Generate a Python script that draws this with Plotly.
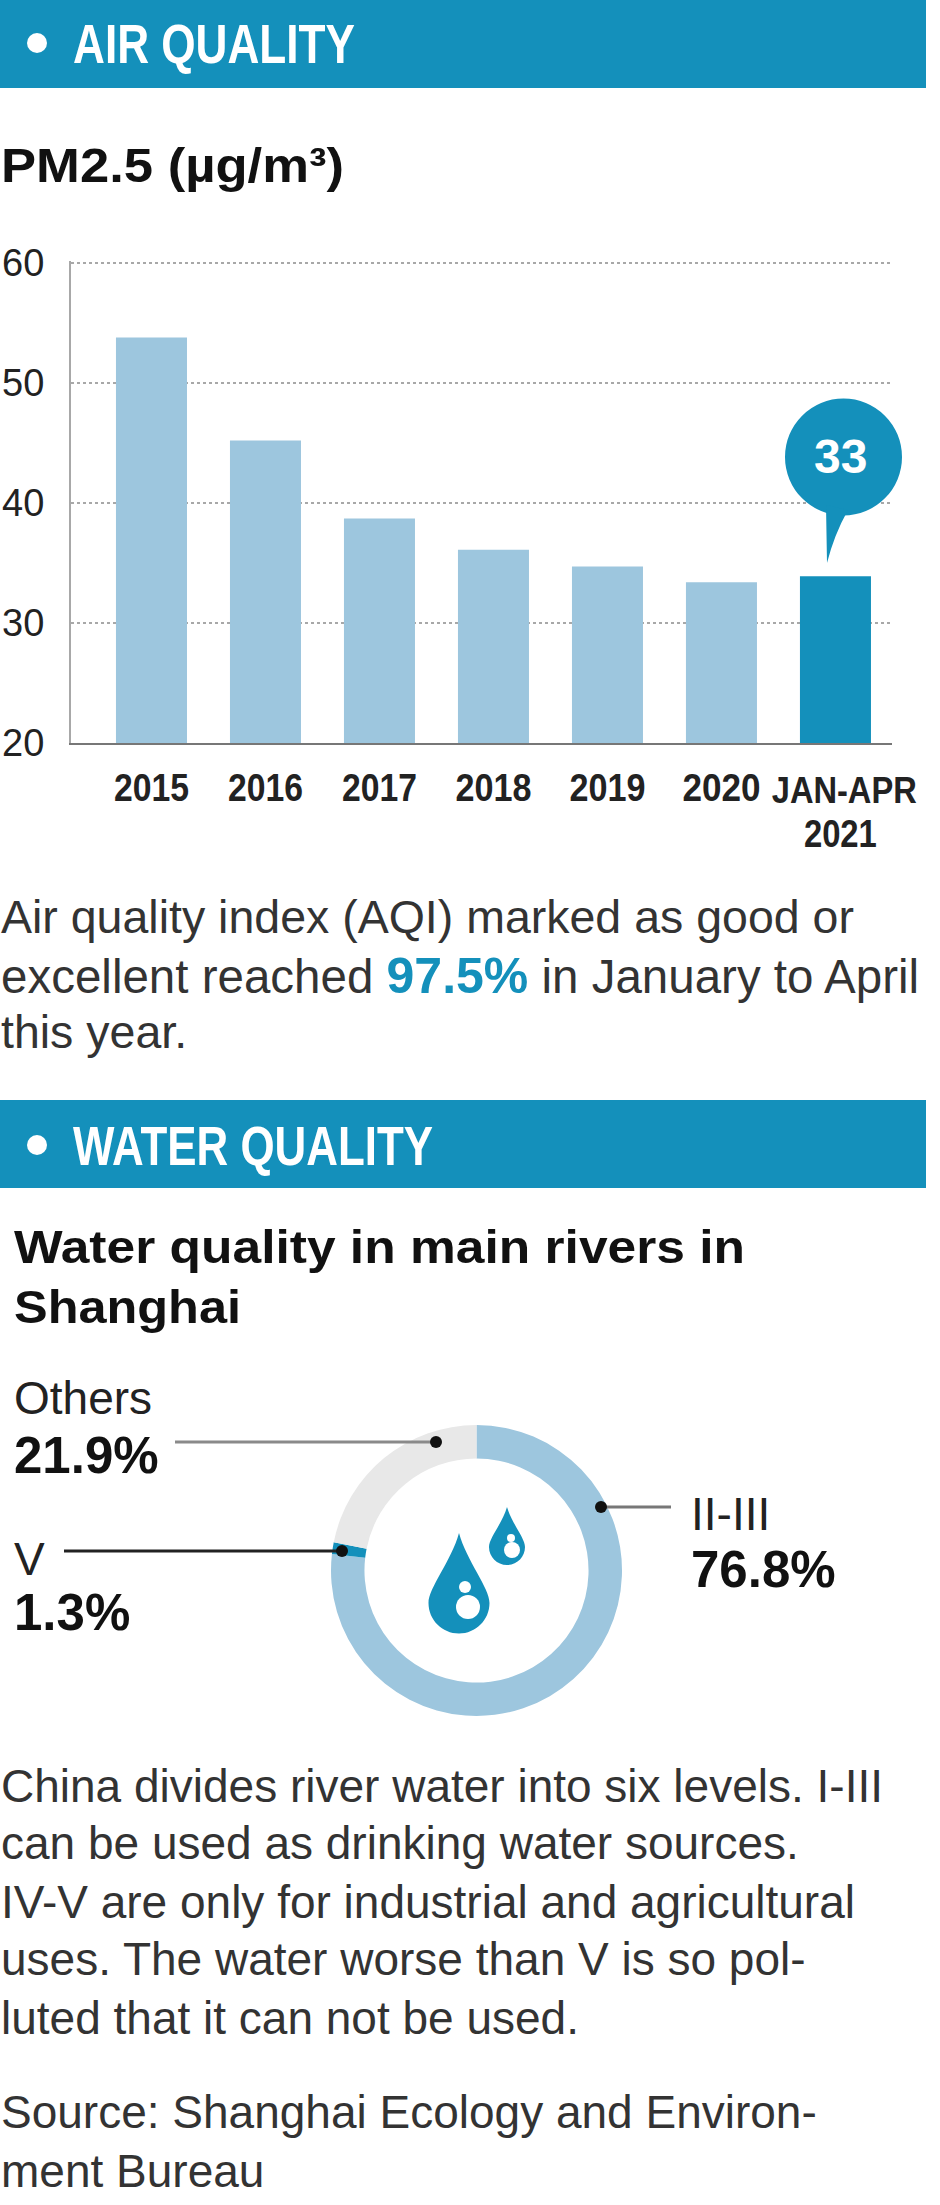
import json
import plotly.graph_objects as go

W, H = 940, 2205
BLUE = "#1490BB"
LIGHT = "#9DC6DE"
GREY = "#E8E8E8"
SANS = "Liberation Sans"

categories = ["2015", "2016", "2017", "2018", "2019", "2020", "JAN-APR 2021"]
pm25 = [53.8, 45.2, 38.7, 36.1, 34.7, 33.4, 33.9]
x_labels = ["2015", "2016", "2017", "2018", "2019", "2020", ""]
y_ticks = [20, 30, 40, 50, 60]
bar_colors = [LIGHT] * 6 + [BLUE]

river_levels = ["II-III", "V", "Others"]
river_shares = [76.8, 1.3, 21.9]
river_colors = [LIGHT, BLUE, GREY]

# Condensed / extended faces are not installed: fit the real text to the reference's widths
text_widths = {"AIR QUALITY": 282, "WATER QUALITY": 360, "JAN-APR": 145, "2021": 73,
               "2015": 75, "2016": 75, "2017": 75, "2018": 76, "2019": 76, "2020": 78,
               "PM2.5 (µg/m³)": 343, "Water quality in main rivers in": 731, "Shanghai": 227}


def px(x):
    return x / W


def py(y):
    return 1 - y / H


def P(x, y):
    return f"{px(x):.5f},{py(y):.5f}"


annotations = []


def text(x, baseline, s, size, color="#222222", weight=400, anchor="left", xref="paper", xshift=0):
    annotations.append(dict(
        x=x if xref != "paper" else px(x), y=py(baseline - 0.3465 * size), xref=xref, yref="paper",
        text=s, showarrow=False,
        xanchor=anchor, yanchor="middle", align=anchor, borderpad=0, xshift=xshift,
        font=dict(family=SANS, size=size, color=color, weight=weight),
    ))


shapes = []


def rect(x0, y0, x1, y1, color):
    shapes.append(dict(type="rect", xref="paper", yref="paper", x0=px(x0), x1=px(x1), y0=py(y0), y1=py(y1),
                       fillcolor=color, line_width=0, layer="below"))


def circle(cx, cy, r, color):
    shapes.append(dict(type="circle", xref="paper", yref="paper", x0=px(cx - r), x1=px(cx + r),
                       y0=py(cy + r), y1=py(cy - r), fillcolor=color, line_width=0, layer="above"))


def line(x0, x1, y, color, width):
    shapes.append(dict(type="line", xref="paper", yref="paper", x0=px(x0), x1=px(x1), y0=py(y), y1=py(y),
                       line=dict(color=color, width=width), layer="above"))


def drop(tipx, tipy, cy, r, color):
    k = 0.5523 * r
    cx = tipx
    bottom = cy + r
    path = (f"M{P(tipx, tipy)} C{P(cx + r * 0.25, tipy + (cy - tipy) * 0.4)} {P(cx + r, cy - k * 0.9)} {P(cx + r, cy)} "
            f"C{P(cx + r, cy + k)} {P(cx + k, bottom)} {P(cx, bottom)} "
            f"C{P(cx - k, bottom)} {P(cx - r, cy + k)} {P(cx - r, cy)} "
            f"C{P(cx - r, cy - k * 0.9)} {P(cx - r * 0.25, tipy + (cy - tipy) * 0.4)} {P(tipx, tipy)} Z")
    shapes.append(dict(type="path", xref="paper", yref="paper", path=path, fillcolor=color, line_width=0, layer="above"))


# Section bands
rect(0, 0, 926, 88, BLUE)
rect(0, 1100, 926, 1188, BLUE)
circle(37, 43, 10, "white")
circle(37, 1145, 10, "white")
text(72, 63, "AIR QUALITY", 55, "white", 700)
text(72, 1165, "WATER QUALITY", 55, "white", 700)

# Titles and body text
text(0, 182, "PM2.5 (µg/m³)", 48, "#111111", 700)
text(13, 1263, "Water quality in main rivers in", 47, "#111111", 700)
text(13, 1323, "Shanghai", 47, "#111111", 700)

text(0, 933, "Air quality index (AQI) marked as good or", 46.5, "#333333")
text(0, 992, f'excellent reached <b><span style="color:{BLUE};font-size:50px">97.5%</span></b> in January to April', 47.5, "#333333")
text(0, 1048, "this year.", 46.5, "#333333")

for b, s in zip([1802, 1859, 1918, 1975, 2034, 2128, 2187], [
    "China divides river water into six levels. I-III",
    "can be used as drinking water sources.",
    "IV-V are only for industrial and agricultural",
    "uses. The water worse than V is so pol-",
    "luted that it can not be used.",
    "Source: Shanghai Ecology and Environ-",
    "ment Bureau",
]):
    text(0, b, s, 46, "#333333")

# Last bar's two-line label
text(6, 803, "JAN-APR", 37, "#222222", 700, anchor="center", xref="x", xshift=9)
text(6, 847, "2021", 39, "#222222", 700, anchor="center", xref="x", xshift=5.5)

# Callout
circle(843.5, 457, 58.5, BLUE)
shapes.append(dict(type="path", xref="paper", yref="paper", line_width=0, fillcolor=BLUE, layer="above",
                   path=f"M{P(826, 505)} L{P(827, 563)} Q{P(834, 535)} {P(848, 510)} Z"))
text(840, 473, "33", 48, "white", 700, anchor="center")

# Donut labels and leaders
line(175, 436, 1442, "#8A8A8A", 3)
line(601, 671, 1507, "#777777", 3)
line(64, 342, 1551, "#222222", 3)
circle(436, 1442, 6, "#111111")
circle(601, 1507, 6, "#111111")
circle(342, 1551, 6, "#111111")

text(13, 1414, "Others", 46, "#222222")
text(13, 1473, "21.9%", 51, "#111111", 700)
text(13, 1575, "V", 46, "#222222")
text(13, 1630, "1.3%", 51, "#111111", 700)
text(690, 1530, "II-III", 46, "#222222")
text(690, 1587, "76.8%", 51, "#111111", 700)

# Droplets
drop(459, 1533, 1603, 30.5, BLUE)
circle(468, 1607, 12, "white")
circle(465, 1587, 6, "white")
drop(507, 1507, 1547, 18, BLUE)
circle(512, 1550, 8, "white")
circle(511, 1538, 4, "white")

fig = go.Figure()
fig.add_bar(x=categories, y=pm25, marker=dict(color=bar_colors, line_width=0), width=0.623,
            hoverinfo="x+y", showlegend=False)
fig.add_pie(labels=river_levels, values=river_shares, marker=dict(colors=river_colors, line_width=0),
            hole=0.77, sort=False, direction="clockwise", rotation=0, textinfo="none", showlegend=False,
            domain=dict(x=[px(331), px(622)], y=[py(1716), py(1425)]))

fig.update_layout(
    width=W, height=H, autosize=False, margin=dict(l=0, r=0, t=0, b=0, pad=0, autoexpand=False),
    paper_bgcolor="white", plot_bgcolor="white", showlegend=False,
    shapes=shapes, annotations=annotations,
    xaxis=dict(
        domain=[px(71), px(892)], range=[-0.706, 6.496], type="category", automargin=False,
        categoryorder="array", categoryarray=categories,
        tickmode="array", tickvals=categories, ticktext=x_labels,
        ticks="", showgrid=False, zeroline=False, showline=True, linecolor="#777777", linewidth=2,
        tickfont=dict(family=SANS, size=39, color="#222222", weight=700), ticklabelstandoff=9, fixedrange=True,
    ),
    yaxis=dict(
        domain=[py(743), py(260.6)], range=[20, 60.2], tickvals=y_ticks, automargin=False,
        ticks="", showgrid=True, gridcolor="#A8A8A8", gridwidth=2, griddash="dot", zeroline=False,
        showline=True, linecolor="#A8A8A8", linewidth=2,
        tickfont=dict(family=SANS, size=38, color="#222222"), ticklabelstandoff=17, fixedrange=True,
    ),
)

post = ("document.body.style.margin='0';document.documentElement.style.overflow='hidden';"
        f"var tw={json.dumps(text_widths)};"
        "document.querySelectorAll('svg text').forEach(function(t){var w=tw[t.textContent];"
        "if(w){t.setAttribute('textLength',w);t.setAttribute('lengthAdjust','spacingAndGlyphs');}});")
fig.write_html("out.html", config=dict(displayModeBar=False), post_script=post)
